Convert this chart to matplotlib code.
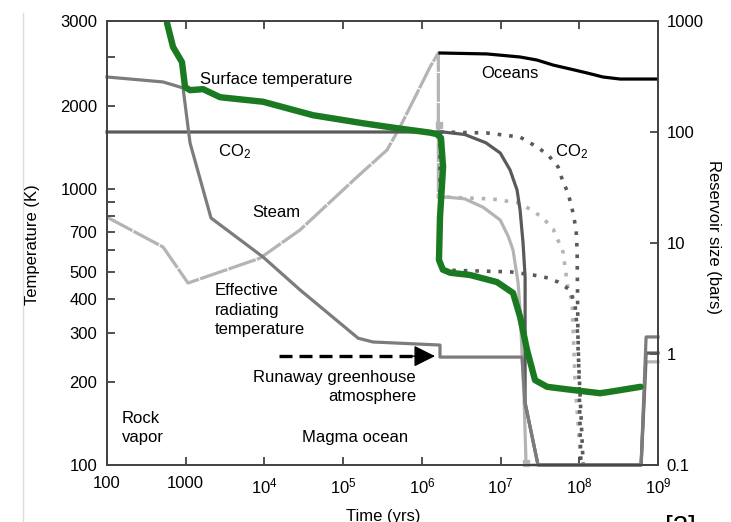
import matplotlib
matplotlib.use("Agg")
import matplotlib.pyplot as plt
from matplotlib.ticker import FixedLocator, NullFormatter, NullLocator
from matplotlib.lines import Line2D

plt.rcParams["font.family"] = ["Liberation Sans", "DejaVu Sans"]
plt.rcParams["mathtext.fontset"] = "custom"
plt.rcParams["mathtext.rm"] = "Liberation Sans"
plt.rcParams["mathtext.it"] = "Liberation Sans:italic"
plt.rcParams["mathtext.default"] = "rm"

# ---- temperature series (left axis, K) ----
surf_t = [578, 690, 897, 980, 1135, 1660, 2730, 9600, 41500, 1.79e5, 4.84e5, 1.27e6,
          1.55e6, 1.75e6, 1.86e6, 1.70e6, 1.65e6, 1.85e6, 2.3e6, 4.09e6, 9.0e6, 1.44e7,
          1.77e7, 2.17e7, 2.74e7, 3.9e7, 7.0e7, 1.84e8, 2.4e8, 6.0e8]
surf_T = [4000, 3270, 2880, 2340, 2280, 2300, 2150, 2070, 1850, 1730, 1660, 1600,
          1580, 1530, 1200, 790, 553, 510, 497, 488, 460, 420,
          344, 261, 203, 192, 188, 182, 184, 192]

eff_t = [100, 515, 925, 1135, 2095, 9600, 28300, 1.55e5, 2.40e5, 1.70e6, 1.70e6,
         1.87e7, 2.05e7, 2.99e7, 6.1e8, 7.06e8, 1e9]
eff_T = [2545, 2442, 2323, 1468, 785, 567, 431, 288, 279, 272, 246,
         246, 168, 100, 100, 291, 291]

arrow_t = [15300, 1.47e6]
arrow_T = 248

# ---- reservoir series (right axis, bars) ----
steam_t = [100, 515, 1070, 8790, 28300, 1.50e5, 3.61e5, 5.28e5, 8.69e5, 1.27e6, 1.62e6, 1.62e6]
steam_P = [17.1, 9.2, 4.36, 7.3, 13.1, 39.3, 68.9, 111, 224, 385, 515, 25.9]

ocean_t = [1.70e6, 6.7e6, 1.77e7, 2.9e7, 4.65e7, 7.6e7, 1.26e8, 2.0e8, 3.3e8, 1e9]
ocean_P = [515, 505, 474, 445, 401, 370, 340, 313, 300, 300]

co2_t = [100, 1.70e6, 1.86e6, 3.5e6, 6.5e6, 9.9e6, 1.32e7, 1.62e7, 1.77e7, 1.93e7, 2.05e7,
         2.05e7, 2.05e7, 2.99e7, 6.1e8, 7.06e8, 1e9]
co2_P = [100, 100, 100, 95, 80, 64.7, 45.5, 30, 19.8, 10, 4.94,
         2.49, 0.362, 0.1, 0.1, 1.02, 1.02]

co2a_t = [1.70e6, 6.7e6, 1.77e7, 2.91e7, 4.02e7, 5.38e7, 6.22e7, 7.21e7, 8.35e7,
          9.12e7, 9.38e7, 9.66e7, 1.12e8]
co2a_P = [100, 98, 90, 73.3, 62.1, 48.4, 35.5, 28.2, 18.6, 13.1, 8.65, 1.09, 0.1]

co2b_t = [1.70e6, 1.70e6, 4.09e6, 1.32e7, 2.59e7, 4.02e7, 5.38e7, 7.64e7, 8.85e7, 9.66e7, 1.05e8]
co2b_P = [100, 5.71, 5.62, 5.5, 5.15, 4.84, 4.45, 3.77, 2.76, 1.34, 0.1]

vap_t = [1.62e6, 2.09e6, 3.5e6, 6.0e6, 9.9e6, 1.25e7, 1.44e7, 1.67e7, 1.77e7, 1.99e7, 2.11e7,
         6.1e8, 7.06e8, 1e9]
vap_P = [25.9, 25.9, 25.0, 21.0, 16.1, 11.5, 8.65, 4.36, 2.49, 0.386, 0.1,
         0.1, 0.85, 0.85]

vapb_t = [2.09e6, 8.0e6, 1.77e7, 3.37e7, 4.65e7, 6.22e7, 7.21e7, 8.11e7, 8.85e7, 1.02e8, 1.02e8]
vapb_P = [25.9, 24.9, 22.9, 17.1, 13.4, 8.3, 3.77, 3.07, 0.55, 0.136, 0.1]

x_ticks = [1e2, 1e3, 1e4, 1e5, 1e6, 1e7, 1e8, 1e9]
x_labels = ["100", "1000", "10$^4$", "10$^5$", "10$^6$", "10$^7$", "10$^8$", "10$^9$"]
T_TOP = 4060
t_ticks = [100, 200, 300, 400, 500, 700, 1000, 2000, T_TOP]
t_labels = ["100", "200", "300", "400", "500", "700", "1000", "2000", "3000"]
t_minor = [600, 800, 900, 3000]
p_ticks = [0.1, 1, 10, 100, 1000]
p_labels = ["0.1", "1", "10", "100", "1000"]

DARK = "#5a5a5a"
MID = "#7c7c7c"
LIGHT = "#b4b4b4"
GREEN = "#1a7a22"
SPINE = "#444444"

fig = plt.figure(figsize=(7.31, 5.22), dpi=100)
ax = fig.add_axes([107 / 731, 57 / 522, 551 / 731, 444 / 522])
ax2 = ax.twinx()

# reservoir lines (drawn underneath)
ax2.plot(vapb_t, vapb_P, color=LIGHT, lw=2.6, linestyle=(0, (1, 2.2)), clip_on=False)
ax2.plot(vap_t, vap_P, color=LIGHT, lw=2.3, clip_on=False)
ax2.plot([2.11e7], [0.104], marker="s", ms=5, color=LIGHT, clip_on=False)
ax2.plot(steam_t, steam_P, color=LIGHT, lw=2.3, dashes=(9, 0.4))
ax2.plot([1.64e6], [116], marker="s", ms=4, color=LIGHT)
ax2.plot(co2b_t, co2b_P, color=DARK, lw=2.6, linestyle=(0, (1, 2.2)), clip_on=False)
ax2.plot(co2a_t, co2a_P, color=DARK, lw=2.6, linestyle=(0, (1, 2.2)), clip_on=False)
ax2.plot(co2_t, co2_P, color=DARK, lw=2.3, clip_on=False)
ax2.plot(ocean_t, ocean_P, color="black", lw=2.3)

# temperature lines on top
ax.set_zorder(ax2.get_zorder() + 1)
ax.patch.set_visible(False)
ax.plot(eff_t, eff_T, color=MID, lw=2.3, clip_on=False)
ax.plot(surf_t, surf_T, color=GREEN, lw=4.6, solid_capstyle="round", solid_joinstyle="round")
ax.plot([arrow_t[0], 1.05e6], [arrow_T, arrow_T], color="black", lw=2.4, dashes=(3.9, 2.1))
ax.annotate("", xy=(arrow_t[1], arrow_T), xytext=(7e5, arrow_T),
            arrowprops=dict(arrowstyle="-|>,head_length=1.1,head_width=0.55",
                            color="black", lw=1, mutation_scale=12, shrinkA=0, shrinkB=0))

# axes
ax.set_xscale("log")
ax.set_xlim(1e2, 1e9)
ax.set_yscale("log")
ax.set_ylim(100, T_TOP)
ax2.set_yscale("log")
ax2.set_ylim(0.1, 1000)

ax.xaxis.set_major_locator(FixedLocator(x_ticks))
ax.set_xticklabels(x_labels)
ax.xaxis.set_minor_locator(NullLocator())
ax.yaxis.set_major_locator(FixedLocator(t_ticks))
ax.set_yticklabels(t_labels)
ax.yaxis.set_minor_locator(FixedLocator(t_minor))
ax.yaxis.set_minor_formatter(NullFormatter())
ax2.yaxis.set_major_locator(FixedLocator(p_ticks))
ax2.set_yticklabels(p_labels)
ax2.yaxis.set_minor_locator(NullLocator())

ax.tick_params(axis="x", which="both", direction="in", top=True, length=6, width=1.3,
               color=SPINE, labelsize=12, pad=8)
ax.tick_params(axis="y", which="both", direction="in", length=6, width=1.3,
               color=SPINE, labelsize=12, pad=7)
ax2.tick_params(axis="y", which="both", direction="in", length=6, width=1.3,
                color=SPINE, labelsize=12, pad=6)
for a in (ax, ax2):
    for s in a.spines.values():
        s.set_color(SPINE)
        s.set_linewidth(1.3)

# annotations (axes fraction)
tkw = dict(transform=ax.transAxes, fontsize=12, color="black")
ax.text(0.169, 0.869, "Surface temperature", va="center", **tkw)
ax.text(0.679, 0.881, "Oceans", va="center", **tkw)
ax.text(0.2015, 0.705, "CO$_2$", va="center", **tkw)
ax.text(0.813, 0.705, "CO$_2$", va="center", **tkw)
ax.text(0.263, 0.568, "Steam", va="center", **tkw)
ax.text(0.196, 0.349, "Effective\nradiating\ntemperature", va="center", linespacing=1.35, **tkw)
ax.text(0.561, 0.176, "Runaway greenhouse\natmosphere", va="center", ha="right",
        multialignment="right", linespacing=1.35, **tkw)
ax.text(0.027, 0.083, "Rock\nvapor", va="center", linespacing=1.35, **tkw)
ax.text(0.354, 0.063, "Magma ocean", va="center", **tkw)

fig.text(32 / 731, (522 - 245) / 522, "Temperature (K)", rotation=90, ha="center",
         va="center", fontsize=12)
fig.text(714 / 731, (522 - 237) / 522, "Reservoir size (bars)", rotation=270, ha="center",
         va="center", fontsize=12)
fig.text(383 / 731, (522 - 516) / 522, "Time (yrs)", ha="center", va="center", fontsize=12)
fig.text(680 / 731, (522 - 528) / 522, "[2]", ha="center", va="center", fontsize=20)
fig.add_artist(Line2D([23 / 731, 23 / 731], [0, 1 - 13 / 522], color="#dddddd", lw=1))

fig.savefig("out.png", dpi=100)
